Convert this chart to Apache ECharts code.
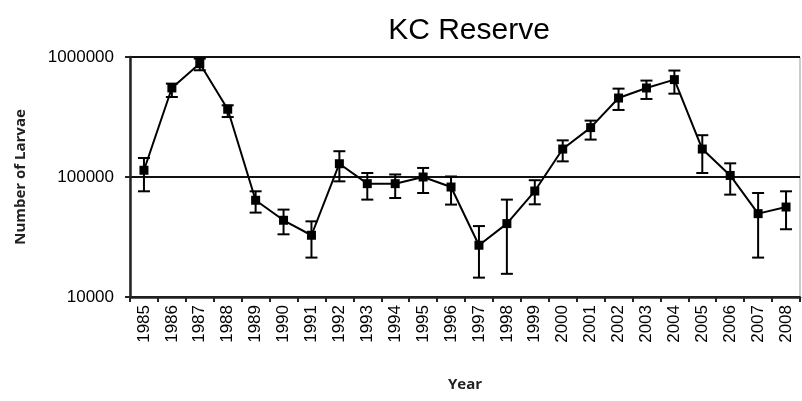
<!DOCTYPE html>
<html>
<head>
<meta charset="utf-8">
<script src="https://cdn.jsdelivr.net/npm/echarts@6/dist/echarts.min.js"></script>
<style>
  html, body { margin: 0; padding: 0; background: #fff; }
</style>
</head>
<body>
<div id="larvaeChart" style="width: 802px; height: 401px;"></div>
<script>
// year labels on the x axis
var years = ['1985', '1986', '1987', '1988', '1989', '1990', '1991', '1992', '1993', '1994', '1995', '1996',
    '1997', '1998', '1999', '2000', '2001', '2002', '2003', '2004', '2005', '2006', '2007', '2008'];
// mean number of larvae
var larvae = [113800, 552000, 881000, 367000, 64000, 43600, 32700, 129000, 88000, 88000, 100000, 82500,
    27000, 40900, 76400, 171000, 258000, 455000, 552000, 648000, 171000, 103000, 49500, 56200];
// error bar ends
var upper = [144000, 600000, 970000, 396000, 76000, 53500, 42700, 164000, 108000, 105000, 119000, 101000,
    39000, 64800, 94000, 202000, 295000, 545000, 636000, 771000, 223000, 130000, 73600, 76000];
var lower = [76000, 464000, 775000, 316000, 50500, 33300, 21300, 92000, 64800, 66800, 73600, 58900,
    14500, 15600, 59200, 135000, 205000, 362000, 447000, 495000, 108000, 71300, 21300, 36700];

var errData = years.map(function (y, i) { return [i, lower[i], upper[i]]; });

var myChart = echarts.init(document.getElementById('larvaeChart'));

myChart.setOption({
    animation: false,
    backgroundColor: '#fff',
    title: {
        text: 'KC Reserve',
        left: 464,
        textAlign: 'center',
        top: 11,
        textStyle: {
            fontFamily: 'Liberation Sans, sans-serif',
            fontWeight: 'normal',
            fontSize: 30,
            color: '#000'
        }
    },
    grid: {
        left: 130,
        right: 2,
        top: 57,
        bottom: 104,
        show: true,
        borderColor: '#999',
        borderWidth: 1
    },
    xAxis: {
        type: 'category',
        data: years,
        name: 'Year',
        nameLocation: 'middle',
        nameGap: 80,
        nameTextStyle: {
            fontFamily: 'Open Sans, sans-serif',
            fontWeight: 'bold',
            fontSize: 15,
            color: '#222'
        },
        axisLine: { lineStyle: { color: '#222', width: 2.5 } },
        axisTick: { show: true, length: 5, lineStyle: { color: '#222', width: 2 }, interval: 0 },
        axisLabel: {
            interval: 0,
            rotate: 90,
            margin: 8,
            fontFamily: 'Liberation Sans, sans-serif',
            fontSize: 17,
            color: '#000'
        },
        splitLine: { show: false }
    },
    yAxis: {
        type: 'log',
        logBase: 10,
        min: 10000,
        max: 1000000,
        name: 'Number of Larvae',
        nameLocation: 'middle',
        nameGap: 102,
        nameTextStyle: {
            fontFamily: 'Open Sans, sans-serif',
            fontWeight: 'bold',
            fontSize: 15,
            color: '#222'
        },
        axisLine: { show: true, lineStyle: { color: '#222', width: 2.5 } },
        axisTick: { show: true, length: 5, lineStyle: { color: '#222', width: 2 } },
        axisLabel: {
            margin: 16,
            fontFamily: 'Liberation Sans, sans-serif',
            fontSize: 17,
            color: '#000',
            formatter: function (v) { return String(Math.round(v)); }
        },
        splitLine: { show: true, lineStyle: { color: '#111', width: 2 } }
    },
    series: [
        {
            name: 'error',
            type: 'custom',
            data: errData,
            encode: { x: 0, y: [1, 2] },
            z: 2,
            renderItem: function (params, api) {
                var lo = api.coord([api.value(0), api.value(1)]);
                var hi = api.coord([api.value(0), api.value(2)]);
                var w = 6;
                var st = { stroke: '#000', lineWidth: 2 };
                return {
                    type: 'group',
                    children: [
                        { type: 'line', shape: { x1: hi[0], y1: hi[1], x2: lo[0], y2: lo[1] }, style: st },
                        { type: 'line', shape: { x1: hi[0] - w, y1: hi[1], x2: hi[0] + w, y2: hi[1] }, style: st },
                        { type: 'line', shape: { x1: lo[0] - w, y1: lo[1], x2: lo[0] + w, y2: lo[1] }, style: st }
                    ]
                };
            }
        },
        {
            name: 'Larvae',
            type: 'line',
            data: larvae,
            z: 3,
            symbol: 'rect',
            symbolSize: 9,
            itemStyle: { color: '#000' },
            lineStyle: { color: '#000', width: 2 }
        }
    ]
});
</script>
</body>
</html>
